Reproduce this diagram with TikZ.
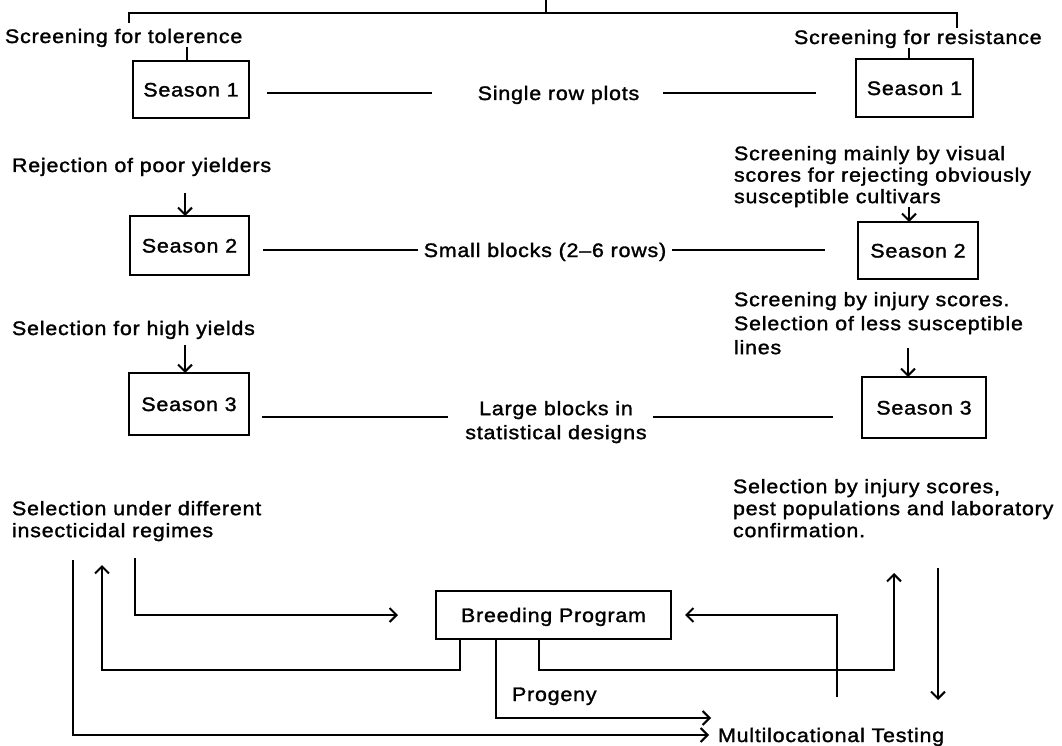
\documentclass[tikz,border=0pt]{standalone}
\usepackage{fontspec}
\setmainfont{Liberation Sans}[FakeStretch=1.1,LetterSpace=4,FakeBold=1.5]
\usetikzlibrary{arrows.meta}
\begin{document}
\begin{tikzpicture}[x=1pt,y=-1pt,
  every node/.style={inner sep=0pt, outer sep=0pt},
  txt/.style={font=\fontsize{19.5}{22}\selectfont, text height=14pt, text depth=0pt},
  mtxt/.style={font=\fontsize{19.5}{22}\selectfont, align=left},
  box/.style={draw, line width=2pt, font=\fontsize{19.5}{22}\selectfont, text height=14pt, text depth=0pt},
  ln/.style={line width=2pt},
  arr/.style={line width=2pt, -{Straight Barb[length=7pt,width=14pt]}}
]
\useasboundingbox (0,0) rectangle (1062,746);

% text nodes
\node[txt, anchor=west] (tol) at (5,36) {Screening for tolerence};
\node[txt, anchor=west] (res) at (794,37) {Screening for resistance};
\node[box, minimum width=116pt, minimum height=57pt] (lS1) at (191,89.5) {Season 1};
\node[box, minimum width=117pt, minimum height=58pt] (rS1) at (914.5,88) {Season 1};
\node[txt] (single) at (558.5,93) {Single row plots};
\node[txt, anchor=west] (rej) at (12,165) {Rejection of poor yielders};
\node[mtxt, font=\fontsize{19.5}{21.5}\selectfont, anchor=north west] (vis) at (734,146) {Screening mainly by visual\\scores for rejecting obviously\\susceptible cultivars};
\node[box, minimum width=119pt, minimum height=59pt] (lS2) at (189.5,245.5) {Season 2};
\node[box, minimum width=120pt, minimum height=57pt] (rS2) at (918,250.5) {Season 2};
\node[txt] (small) at (545,250) {Small blocks (2–6 rows)};
\node[txt, anchor=west] (high) at (12,328) {Selection for high yields};
\node[mtxt, font=\fontsize{19.5}{24}\selectfont, anchor=north west] (inj) at (734,292) {Screening by injury scores.\\Selection of less susceptible\\lines};
\node[box, minimum width=120pt, minimum height=62pt] (lS3) at (189,404) {Season 3};
\node[box, minimum width=124pt, minimum height=61pt] (rS3) at (924,407.5) {Season 3};
\node[mtxt, font=\fontsize{19.5}{24}\selectfont, align=center, anchor=north] (large) at (556,401) {Large blocks in\\statistical designs};
\node[mtxt, anchor=north west] (sud) at (12,501) {Selection under different\\insecticidal regimes};
\node[mtxt, anchor=north west] (sbi) at (733,479) {Selection by injury scores,\\pest populations and laboratory\\confirmation.};
\node[box, minimum width=235pt, minimum height=48pt] (bp) at (553.5,615) {Breeding Program};
\node[txt, anchor=west] (prog) at (512,694) {Progeny};
\node[txt, anchor=west] (mult) at (718,735) {Multilocational Testing};

% top bracket
\coordinate (bt) at (546,0);
\coordinate (bm) at (546,13.5);
\coordinate (bl) at (129,23);
\coordinate (br) at (957,28);
\draw[ln] (bl) |- (bm) -| (br);
\draw[ln] (bt) -- (bm);

% ticks to season 1 boxes
\coordinate (t1) at (187,47);
\draw[ln] (t1) -- (t1 |- lS1.north);
\coordinate (t2) at (909,48);
\draw[ln] (t2) -- (t2 |- rS1.north);

% down arrows
\coordinate (a1) at (185,193);
\draw[arr] (a1) -- (a1 |- lS2.north);
\coordinate (a2) at (185,345);
\draw[arr] (a2) -- (a2 |- lS3.north);
\coordinate (a3) at (909,207);
\draw[arr] (a3) -- (a3 |- rS2.north);
\coordinate (a4) at (908,348);
\draw[arr] (a4) -- (a4 |- rS3.north);

% row lines
\draw[ln, shorten <=18pt, shorten >=46pt] (lS1.east |- single.west) -- (single.west);
\draw[ln, shorten <=24pt, shorten >=40pt] (single.east) -- (single.east -| rS1.west);
\draw[ln, shorten <=14pt, shorten >=6pt] (lS2.east |- small.west) -- (small.west);
\draw[ln, shorten <=6pt, shorten >=33pt] (small.east) -- (small.east -| rS2.west);
\coordinate (r3) at (0,417);
\draw[ln, shorten <=13pt, shorten >=17pt] (lS3.east |- r3) -- (large.west |- r3);
\draw[ln, shorten <=6pt, shorten >=29pt] (large.east |- r3) -- (rS3.west |- r3);

% bottom flows
\coordinate (c1) at (73,560);
\draw[arr, shorten >=9pt] (c1) |- (mult.west);
\coordinate (j2) at (102,670);
\coordinate (c2) at (102,565);
\draw[arr] ([xshift=24pt]bp.south west) |- (j2) -- (c2);
\coordinate (c3) at (135,558);
\draw[arr, shorten >=38pt] (c3) |- (bp.west);
\coordinate (c4) at (711,718);
\draw[arr] ([xshift=60pt]bp.south west) |- (c4);
\coordinate (j5) at (894,670);
\coordinate (c5) at (894,573);
\draw[arr] ([xshift=103pt]bp.south west) |- (j5) -- (c5);
\coordinate (c6) at (837,697);
\draw[arr, shorten >=14pt] (c6) |- (bp.east);
\coordinate (c7) at (938,568);
\coordinate (c7b) at (938,700);
\draw[arr] (c7) -- (c7b);
\end{tikzpicture}
\end{document}
